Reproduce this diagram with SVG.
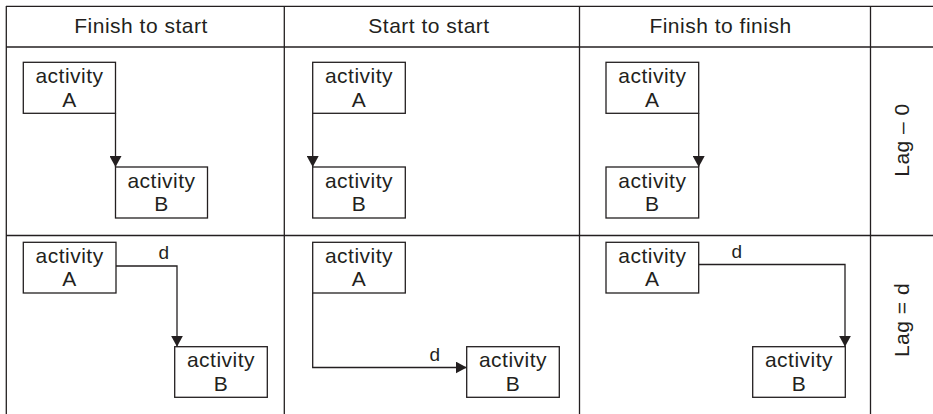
<svg xmlns="http://www.w3.org/2000/svg" width="933" height="414" viewBox="0 0 933 414">
  <style>
    .grid { stroke: #231f20; stroke-width: 1.3; fill: none; }
    .box { stroke: #231f20; stroke-width: 1.3; fill: #ffffff; }
    .link { stroke: #231f20; stroke-width: 1.3; fill: none; }
    text { font-family: "Liberation Sans", Arial, sans-serif; fill: #231f20; letter-spacing: 0.5px; }
    .head { font-size: 21px; text-anchor: middle; }
    .lbl { font-size: 21px; text-anchor: middle; }
    .lag { font-size: 19px; text-anchor: middle; }
    .side { font-size: 21px; text-anchor: middle; dominant-baseline: central; }
  </style>
  <defs>
    <marker id="arrow" viewBox="0 0 11 12" refX="11" refY="6" markerWidth="11" markerHeight="12" markerUnits="userSpaceOnUse" orient="auto">
      <path d="M0,0 L11,6 L0,12 z" fill="#231f20"/>
    </marker>
  </defs>

  <!-- table rules -->
  <g id="table" class="grid">
    <line x1="6" y1="6.3" x2="933" y2="6.3"/>
    <line x1="6" y1="47" x2="933" y2="47"/>
    <line x1="6" y1="235.5" x2="933" y2="235.5"/>
    <line x1="6.3" y1="6" x2="6.3" y2="414"/>
    <line x1="284.3" y1="6" x2="284.3" y2="414"/>
    <line x1="579.5" y1="6" x2="579.5" y2="414"/>
    <line x1="870.5" y1="6" x2="870.5" y2="414"/>
  </g>

  <!-- column and row headings -->
  <g id="headings">
    <text class="head" x="141" y="32.5">Finish to start</text>
    <text class="head" x="429" y="32.5">Start to start</text>
    <text class="head" x="720.5" y="32.5">Finish to finish</text>
    <text class="side" transform="translate(901.5 140) rotate(-90)">Lag – 0</text>
    <text class="side" transform="translate(901.5 320) rotate(-90)">Lag = d</text>
  </g>

  <!-- connectors -->
  <g id="connectors" class="link">
    <path d="M115.5,113.3 V167" marker-end="url(#arrow)"/>
    <path d="M312.7,113.3 V167" marker-end="url(#arrow)"/>
    <path d="M698.7,113.3 V167" marker-end="url(#arrow)"/>
    <path d="M116,266 H177 V346.7" marker-end="url(#arrow)"/>
    <path d="M312.7,293 V367.5 H466.7" marker-end="url(#arrow)"/>
    <path d="M698.7,264.5 H845 V346.7" marker-end="url(#arrow)"/>
  </g>

  <!-- lag labels -->
  <g id="lag-labels">
    <text class="lag" x="164" y="259">d</text>
    <text class="lag" x="435" y="360.5">d</text>
    <text class="lag" x="737" y="258">d</text>
  </g>

  <!-- finish to start, lag 0 -->
  <g id="fs0-a">
    <rect class="box" x="23.3" y="62.3" width="92.2" height="51"/>
    <text class="lbl"><tspan x="69.5" y="83">activity</tspan><tspan x="69.5" dy="23.6">A</tspan></text>
  </g>
  <g id="fs0-b">
    <rect class="box" x="115.5" y="167" width="92" height="51"/>
    <text class="lbl"><tspan x="161.5" y="187.7">activity</tspan><tspan x="161.5" dy="23.6">B</tspan></text>
  </g>

  <!-- start to start, lag 0 -->
  <g id="ss0-a">
    <rect class="box" x="312.7" y="62.3" width="92.6" height="51"/>
    <text class="lbl"><tspan x="359" y="83">activity</tspan><tspan x="359" dy="23.6">A</tspan></text>
  </g>
  <g id="ss0-b">
    <rect class="box" x="312.7" y="167" width="92.6" height="51"/>
    <text class="lbl"><tspan x="359" y="187.7">activity</tspan><tspan x="359" dy="23.6">B</tspan></text>
  </g>

  <!-- finish to finish, lag 0 -->
  <g id="ff0-a">
    <rect class="box" x="606" y="62.3" width="92.7" height="51"/>
    <text class="lbl"><tspan x="652.3" y="83">activity</tspan><tspan x="652.3" dy="23.6">A</tspan></text>
  </g>
  <g id="ff0-b">
    <rect class="box" x="606" y="167" width="92.7" height="51"/>
    <text class="lbl"><tspan x="652.3" y="187.7">activity</tspan><tspan x="652.3" dy="23.6">B</tspan></text>
  </g>

  <!-- finish to start, lag d -->
  <g id="fsd-a">
    <rect class="box" x="23.3" y="242.3" width="92.7" height="50.7"/>
    <text class="lbl"><tspan x="69.6" y="262.5">activity</tspan><tspan x="69.6" dy="23.6">A</tspan></text>
  </g>
  <g id="fsd-b">
    <rect class="box" x="174.7" y="346.7" width="92.6" height="50.6"/>
    <text class="lbl"><tspan x="221" y="367.3">activity</tspan><tspan x="221" dy="23.6">B</tspan></text>
  </g>

  <!-- start to start, lag d -->
  <g id="ssd-a">
    <rect class="box" x="312.7" y="242.3" width="92.6" height="50.7"/>
    <text class="lbl"><tspan x="359" y="262.5">activity</tspan><tspan x="359" dy="23.6">A</tspan></text>
  </g>
  <g id="ssd-b">
    <rect class="box" x="466.7" y="346.7" width="92.6" height="50.6"/>
    <text class="lbl"><tspan x="513" y="367.3">activity</tspan><tspan x="513" dy="23.6">B</tspan></text>
  </g>

  <!-- finish to finish, lag d -->
  <g id="ffd-a">
    <rect class="box" x="606" y="242.3" width="92.7" height="50.7"/>
    <text class="lbl"><tspan x="652.3" y="262.5">activity</tspan><tspan x="652.3" dy="23.6">A</tspan></text>
  </g>
  <g id="ffd-b">
    <rect class="box" x="752.7" y="346.7" width="92.6" height="50.6"/>
    <text class="lbl"><tspan x="799" y="367.3">activity</tspan><tspan x="799" dy="23.6">B</tspan></text>
  </g>
</svg>
